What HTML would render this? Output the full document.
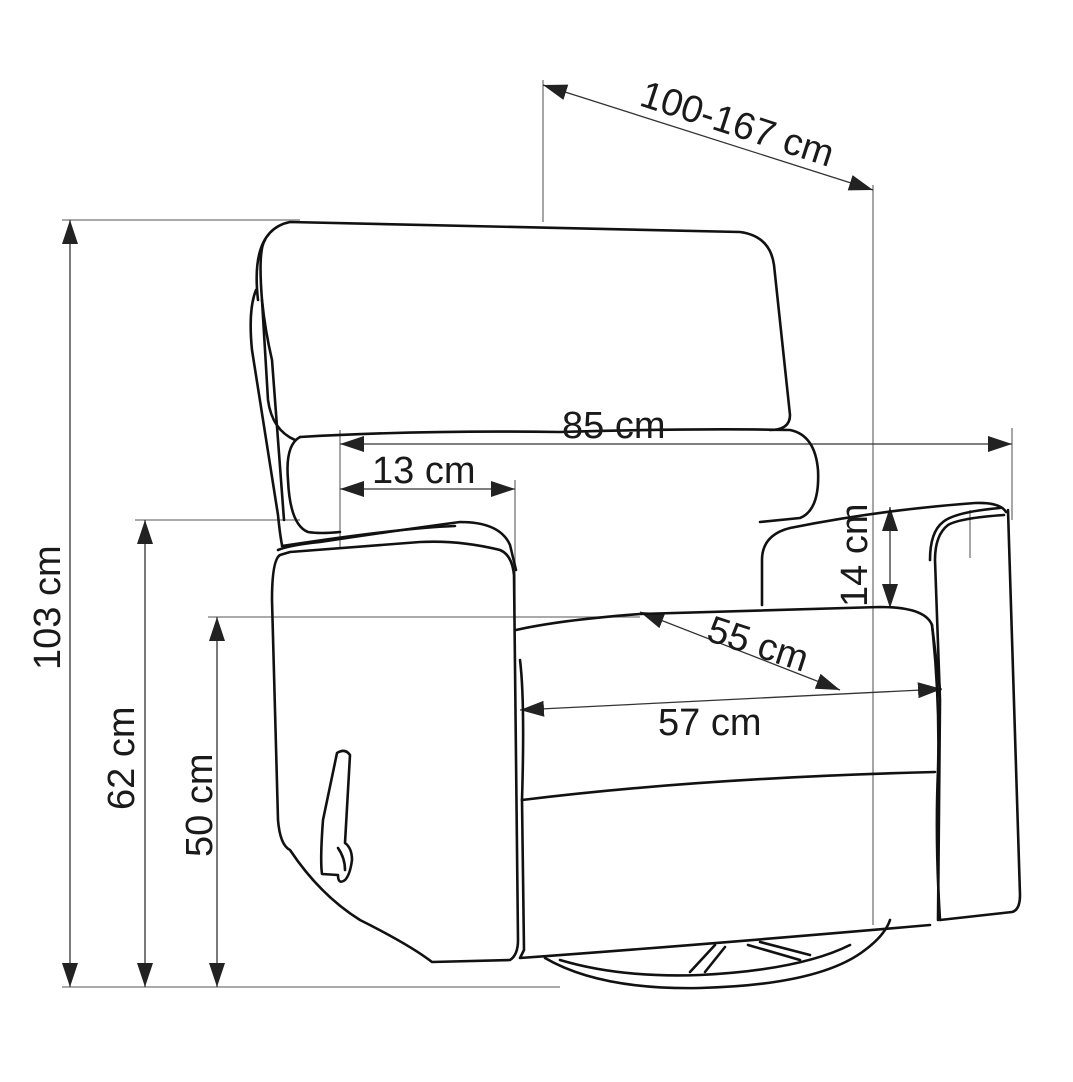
<!DOCTYPE html>
<html><head><meta charset="utf-8"><style>
html,body{margin:0;padding:0;background:#fff;}
svg{display:block}
text{font-family:"Liberation Sans",sans-serif;font-size:38px;fill:#1a1a1a}
</style></head><body>
<svg width="1073" height="1082" viewBox="0 0 1073 1082" xmlns="http://www.w3.org/2000/svg">
<defs>
<marker id="a" viewBox="0 0 24 16" refX="24" refY="8" markerWidth="24" markerHeight="16" markerUnits="userSpaceOnUse" orient="auto-start-reverse">
<path d="M0,0 L24,8 L0,16 Z" fill="#222"/></marker>
</defs>
<rect width="1073" height="1082" fill="#fff"/>
<g stroke="#777" stroke-width="1.3" fill="none">
<line x1="62" y1="220" x2="300" y2="220"/>
<line x1="62" y1="987" x2="560" y2="987"/>
<line x1="135" y1="520" x2="300" y2="520"/>
<line x1="208" y1="617" x2="640" y2="617"/>
<line x1="543" y1="80" x2="543" y2="222"/>
<line x1="873" y1="185" x2="873" y2="925"/>
<line x1="340" y1="430" x2="340" y2="548"/>
<line x1="1012" y1="428" x2="1012" y2="520"/>
<line x1="515" y1="480" x2="515" y2="610"/>
<line x1="970" y1="510" x2="970" y2="558"/>
</g>
<g stroke="#333" stroke-width="1.3" fill="none" marker-start="url(#a)" marker-end="url(#a)">
<line x1="70" y1="220" x2="70" y2="987"/>
<line x1="145" y1="520" x2="145" y2="987"/>
<line x1="217" y1="617" x2="217" y2="987"/>
<line x1="543" y1="85" x2="873" y2="190"/>
<line x1="340" y1="444" x2="1012" y2="444"/>
<line x1="340" y1="489" x2="515" y2="489"/>
<line x1="890" y1="507" x2="890" y2="608"/>
<line x1="640" y1="612" x2="840" y2="690"/>
<line x1="520" y1="710" x2="942" y2="689"/>
</g>
<g stroke="#111" stroke-width="2.6" fill="none" stroke-linejoin="round" stroke-linecap="round">
<path d="M258,300 Q250,230 290,222 L740,232 Q770,236 774,265 L790,415 Q790,430 770,430"/>
<path d="M265,240 Q258,250 262,300 L268,400 Q272,430 295,440"/>
<path d="M256,290 Q248,310 252,350 L278,515 Q280,535 282,545"/>
<path d="M262,300 Q265,330 272,360 L284,520"/>
<path d="M300,437 Q420,430 560,432 Q700,428 790,430 Q815,435 818,470 Q820,510 800,518 Q780,520 760,522"/>
<path d="M300,437 Q285,445 288,480 Q290,525 308,532 Q320,534 340,532"/>
<path d="M278,550 Q290,545 320,542 Q400,530 460,522 Q500,522 510,545 L516,570"/>
<path d="M282,546 Q400,528 455,526"/>
<path d="M280,555 Q272,560 272,600 L278,820 Q280,845 290,850 Q320,895 360,920 Q410,945 432,962 L510,960 Q518,955 518,940 L514,575 Q512,555 500,550 Q460,540 420,542 Q340,548 290,552 Z"/>
<path d="M337,753 Q345,748 350,755 L345,843 Q352,848 352,860 Q350,875 345,880 Q338,885 338,875 L322,874 Q320,860 323,820 Z"/>
<path d="M338,848 Q345,858 345,870"/>
<path d="M516,630 Q560,620 640,614 L880,607 Q925,607 932,625 L940,690"/>
<path d="M520,660 Q525,700 522,800"/>
<path d="M522,800 Q700,778 935,772"/>
<path d="M522,800 L524,950 L520,958 Q700,945 930,925"/>
<path d="M545,958 Q600,990 700,988 Q820,985 865,950 Q885,935 890,920"/>
<path d="M560,960 Q620,978 700,975 Q800,970 850,945"/>
<path d="M690,972 L715,945 M705,972 L725,947 M748,945 L800,960 M760,942 L810,955"/>
<path d="M762,605 L762,560 Q762,535 790,528 Q880,510 975,503 Q1000,502 1006,512"/>
<path d="M940,920 L1012,912 Q1020,910 1020,895 L1008,510"/>
<path d="M1004,515 Q960,518 948,525 Q935,535 935,560 L940,700 L938,920"/>
<path d="M1000,508 Q955,512 943,522 Q930,532 930,560"/>
<path d="M932,625 Q940,700 938,770 Q935,840 940,920"/>
</g>
<text x="0" y="0" transform="translate(60,670) rotate(-90)">103 cm</text>
<text x="0" y="0" transform="translate(134,810) rotate(-90)">62 cm</text>
<text x="0" y="0" transform="translate(212,857) rotate(-90)">50 cm</text>
<text x="0" y="0" transform="translate(638,105) rotate(18)">100-167 cm</text>
<text x="562" y="438">85 cm</text>
<text x="372" y="483">13 cm</text>
<text x="0" y="0" transform="translate(867,607) rotate(-90)">14 cm</text>
<text x="0" y="0" transform="translate(705,640) rotate(18)">55 cm</text>
<text x="658" y="735">57 cm</text>
</svg>
</body></html>
